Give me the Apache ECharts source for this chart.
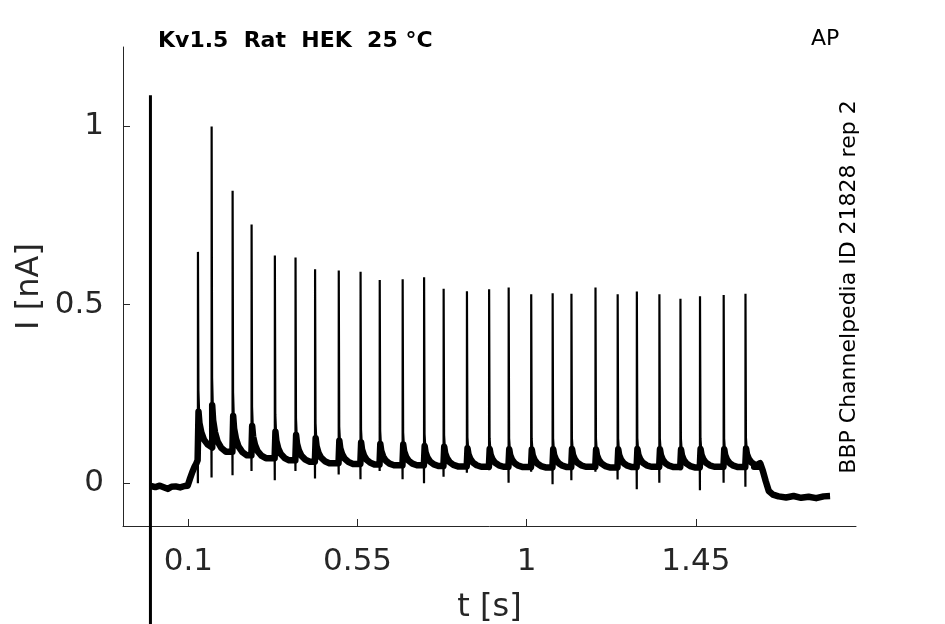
<!DOCTYPE html>
<html>
<head>
<meta charset="utf-8">
<script src="https://cdn.jsdelivr.net/npm/echarts@6/dist/echarts.min.js"></script>
<style>html,body{margin:0;padding:0;background:#fff}#c{width:945px;height:624px}</style>
</head>
<body>
<div id="c"></div>
<script>
// ---- data ----
const xTicks = [0.1, 0.55, 1, 1.45];
const yTicks = [0, 0.5, 1];

// baseline before the step
const preT = [0, 0.012, 0.024, 0.036, 0.045, 0.055, 0.066, 0.078, 0.09, 0.098, 0.104, 0.11, 0.116, 0.121, 0.1245];
const preV = [-0.008, -0.011, -0.007, -0.012, -0.016, -0.01, -0.009, -0.012, -0.008, -0.007, 0.012, 0.03, 0.045, 0.055, 0.064];

// spikes
const spikeT = [0.1254, 0.1618, 0.2176, 0.2681, 0.330, 0.385, 0.437, 0.500, 0.558, 0.609, 0.670, 0.727, 0.779, 0.841,
                0.900, 0.952, 1.012, 1.069, 1.119, 1.183, 1.242, 1.293, 1.353, 1.409, 1.461, 1.524, 1.582];
const spikePeak = [0.648, 0.999, 0.819, 0.725, 0.638, 0.632, 0.599, 0.596, 0.592, 0.569, 0.571, 0.577, 0.545, 0.538,
                   0.543, 0.548, 0.529, 0.532, 0.531, 0.548, 0.529, 0.537, 0.529, 0.517, 0.524, 0.527, 0.531];
const spikeDip = [0.0, 0.016, 0.022, 0.034, 0.008, 0.034, 0.013, 0.024, 0.011, 0.034, 0.011, 0.0, 0.018, 0.029,
                  0.036, 0.001, 0.032, -0.003, 0.008, 0.032, 0.01, -0.017, 0.001, 0.036, -0.02, 0.001, -0.01];
// level the trace settles to after each spike
const spikeLevel = [0.10, 0.088, 0.078, 0.07, 0.064, 0.06, 0.056, 0.054, 0.052, 0.05, 0.05, 0.048, 0.047, 0.046,
                    0.046, 0.045, 0.044, 0.045, 0.046, 0.044, 0.045, 0.046, 0.045, 0.044, 0.046, 0.045, 0.047];
// height of the after-current just behind each spike (above its level)
const spikeTail = [0.10, 0.13, 0.11, 0.09, 0.08, 0.075, 0.07, 0.065, 0.062, 0.06, 0.058, 0.056, 0.055, 0.052,
                   0.05, 0.05, 0.05, 0.05, 0.05, 0.05, 0.05, 0.05, 0.05, 0.05, 0.05, 0.05, 0.05];
// after-current decay profile
const tailDt = [0.0015, 0.004, 0.009, 0.016, 0.026, 0.038];
const tailFrac = [1.0, 0.68, 0.42, 0.22, 0.08, 0.0];

// end of the step and return to baseline
const postT = [1.605, 1.614, 1.621, 1.628, 1.636, 1.644, 1.655, 1.67, 1.69, 1.71, 1.73, 1.75, 1.77, 1.79, 1.807];
const postV = [0.046, 0.052, 0.056, 0.035, 0.005, -0.022, -0.032, -0.037, -0.04, -0.036, -0.041, -0.038, -0.042, -0.037, -0.036];

// artefact at stimulus onset
const artT = [-0.001, -0.001];
const artV = [1.087, -0.7];

// ---- build series ----
const thick = [];
for (let i = 0; i < preT.length; i++) thick.push([preT[i], preV[i]]);
for (let i = 0; i < spikeT.length; i++) {
  const prev = i === 0 ? preV[preV.length - 1] : spikeLevel[i - 1];
  thick.push([spikeT[i] - 0.0006, prev]);
  for (let k = 0; k < tailDt.length; k++) {
    thick.push([spikeT[i] + tailDt[k], spikeLevel[i] + spikeTail[i] * tailFrac[k]]);
  }
}
for (let i = 0; i < postT.length; i++) thick.push([postT[i], postV[i]]);

const thin = [];
for (let i = 0; i < spikeT.length; i++) {
  const prev = i === 0 ? preV[preV.length - 1] : spikeLevel[i - 1];
  thin.push([spikeT[i] - 0.0006, prev]);
  thin.push([spikeT[i] - 0.0002, spikeDip[i]]);
  thin.push([spikeT[i], spikePeak[i]]);
  thin.push([spikeT[i] + 0.0012, spikeLevel[i] + spikeTail[i] * 1.6]);
  thin.push([spikeT[i] + tailDt[1], spikeLevel[i] + spikeTail[i] * tailFrac[1]]);
  thin.push([spikeT[i] + 0.005, '-']);
}
const art = artT.map((t, i) => [t, artV[i]]);

const FONT = 'DejaVu Sans';
const TXT = '#262626';
const chart = echarts.init(document.getElementById('c'), null, {renderer: 'canvas'});
chart.setOption({
  animation: false,
  backgroundColor: '#ffffff',
  title: {
    text: 'Kv1.5  Rat  HEK  25 °C',
    left: 153, top: 25,
    textStyle: {fontFamily: FONT, fontSize: 22, fontWeight: 'bold', color: '#000'}
  },
  grid: {left: 123, right: 89, top: 47, bottom: 98, containLabel: false, outerBoundsMode: 'none'},
  xAxis: {
    type: 'value', min: -0.074, max: 1.876,
    name: 't [s]', nameLocation: 'middle', nameGap: 66,
    nameTextStyle: {fontFamily: FONT, fontSize: 32, color: TXT},
    axisLine: {show: true, onZero: false, lineStyle: {color: TXT, width: 1}},
    axisTick: {show: true, inside: true, length: 7, customValues: xTicks, lineStyle: {color: TXT}},
    axisLabel: {customValues: xTicks, fontFamily: FONT, fontSize: 31, color: TXT, margin: 20},
    splitLine: {show: false}
  },
  yAxis: {
    type: 'value', min: -0.12, max: 1.222,
    name: 'I [nA]', nameLocation: 'middle', nameGap: 77, nameMoveOverlap: false,
    nameTextStyle: {fontFamily: FONT, fontSize: 32, color: TXT},
    axisLine: {show: true, onZero: false, lineStyle: {color: TXT, width: 1}},
    axisTick: {show: true, inside: true, length: 7, customValues: yTicks, lineStyle: {color: TXT}},
    axisLabel: {customValues: yTicks, fontFamily: FONT, fontSize: 31, color: TXT, margin: 19},
    splitLine: {show: false}
  },
  graphic: [
    {type: 'text', left: 811, top: 28, style: {text: 'AP', font: '22px "DejaVu Sans"', fill: '#000'}},
    {type: 'text', x: 849, y: 287, rotation: Math.PI / 2,
     style: {text: 'BBP Channelpedia ID 21828 rep 2', font: '22px "DejaVu Sans"', fill: '#000',
             align: 'center', verticalAlign: 'middle'}}
  ],
  series: [
    {type: 'line', data: thick, showSymbol: false, symbol: 'none', lineStyle: {color: '#000', width: 6.5, join: 'round'}, z: 2},
    {type: 'line', data: thin, showSymbol: false, symbol: 'none', connectNulls: false, lineStyle: {color: '#000', width: 2.2}, z: 3},
    {type: 'line', data: art, showSymbol: false, symbol: 'none', clip: false, lineStyle: {color: '#000', width: 3}, z: 4}
  ]
});
</script>
</body>
</html>
